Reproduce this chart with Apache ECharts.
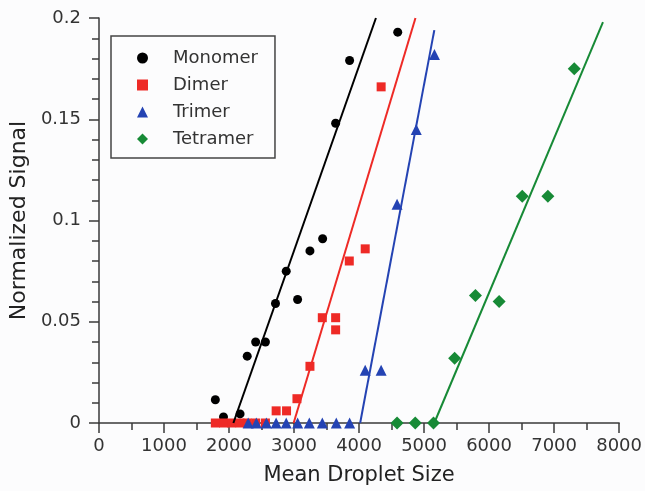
<!DOCTYPE html>
<html>
<head>
<meta charset="utf-8">
<script src="https://cdn.jsdelivr.net/npm/echarts@6/dist/echarts.min.js"></script>
<style>
html,body{margin:0;padding:0;background:#fcfcfd;}
#main{width:645px;height:491px;}
</style>
</head>
<body>
<div id="main"></div>
<script>
// droplet size / normalized signal
var monomerX = [1790, 1915, 2170, 2280, 2410, 2560, 2715, 2880, 3055, 3245, 3440, 3640, 3855, 4595];
var monomerY = [0.0115, 0.003, 0.0045, 0.033, 0.040, 0.040, 0.059, 0.075, 0.061, 0.085, 0.091, 0.148, 0.179, 0.193];
var dimerX = [1790, 1915, 2040, 2170, 2280, 2410, 2560, 2725, 2885, 3045, 3245, 3435, 3640, 3640, 3850, 4095, 4340];
var dimerY = [0, 0, 0, 0, 0, 0, 0, 0.006, 0.006, 0.012, 0.028, 0.052, 0.052, 0.046, 0.080, 0.086, 0.166];
var trimerX = [2295, 2420, 2575, 2725, 2880, 3055, 3235, 3435, 3650, 3855, 4095, 4340, 4585, 4880, 5160];
var trimerY = [0, 0, 0, 0, 0, 0, 0, 0, 0, 0, 0.026, 0.026, 0.108, 0.145, 0.182];
var tetramerX = [4585, 4865, 5145, 5470, 5790, 6155, 6510, 6905, 7310];
var tetramerY = [0, 0, 0, 0.032, 0.063, 0.060, 0.112, 0.112, 0.175];
// fitted lines, two end points each
var monomerFit = [[2067, 0], [4260, 0.2]];
var dimerFit = [[2994, 0], [4868, 0.2]];
var trimerFit = [[4017, 0], [5158, 0.194]];
var tetramerFit = [[5157, 0], [7752, 0.198]];

var names = ['Monomer', 'Dimer', 'Trimer', 'Tetramer'];
var colors = ['#000000', '#ee2a26', '#2443b3', '#178a36'];
var symbols = ['circle', 'rect', 'triangle', 'diamond'];
var sizes = [9, 9, 11, 13];

function pairs(xs, ys) {
	var out = [];
	for (var i = 0; i < xs.length; i++) out.push([xs[i], ys[i]]);
	return out;
}

var font = 'DejaVu Sans';
var axisColor = '#3a3a3a';

var myChart = echarts.init(document.getElementById('main'));
var pts = [pairs(monomerX, monomerY), pairs(dimerX, dimerY), pairs(trimerX, trimerY), pairs(tetramerX, tetramerY)];
var fits = [monomerFit, dimerFit, trimerFit, tetramerFit];

var series = [];
for (var i = 0; i < 4; i++) {
	series.push({
		name: names[i],
		type: 'scatter',
		symbol: symbols[i],
		symbolSize: sizes[i],
		itemStyle: {color: colors[i], opacity: 1},
		data: pts[i]
	});
}
for (var j = 0; j < 4; j++) {
	series.push({
		name: names[j] + ' fit',
		type: 'line',
		showSymbol: false,
		symbol: 'none',
		silent: true,
		lineStyle: {color: colors[j], width: 2},
		data: fits[j]
	});
}

var option = {
	backgroundColor: '#fcfcfd',
	animation: false,
	grid: {left: 95, right: 23, top: 18, bottom: 67},
	legend: {
		data: names,
		orient: 'vertical',
		left: 111,
		top: 36,
		padding: [13, 17, 10, 26],
		itemWidth: 11,
		itemHeight: 11,
		itemGap: 9,
		borderColor: '#444',
		borderWidth: 1.5,
		borderRadius: 0,
		textStyle: {fontFamily: font, fontSize: 18, color: '#333', lineHeight: 18, padding: [0, 0, 0, 20]}
	},
	xAxis: {
		type: 'value',
		min: 0, max: 8000, interval: 1000,
		name: 'Mean Droplet Size',
		nameLocation: 'middle',
		nameGap: 42,
		nameTextStyle: {fontFamily: font, fontSize: 21, color: '#222'},
		axisLine: {onZero: false, lineStyle: {color: axisColor, width: 1.5}},
		axisTick: {show: true, inside: false, length: 10, lineStyle: {color: axisColor, width: 1.5}},
		minorTick: {show: true, splitNumber: 2, length: 7, lineStyle: {color: axisColor, width: 1.5}},
		axisLabel: {fontFamily: font, fontSize: 18, color: '#333', margin: 14, formatter: function (v) { return String(v); }},
		splitLine: {show: false}
	},
	yAxis: {
		type: 'value',
		min: 0, max: 0.2, interval: 0.05,
		name: 'Normalized Signal',
		nameLocation: 'middle',
		nameGap: 64,
		nameTextStyle: {fontFamily: font, fontSize: 22, color: '#222'},
		axisLine: {show: true, lineStyle: {color: axisColor, width: 1.5}},
		axisTick: {show: true, inside: false, length: 10, lineStyle: {color: axisColor, width: 1.5}},
		minorTick: {show: true, splitNumber: 5, length: 7, lineStyle: {color: axisColor, width: 1.5}},
		axisLabel: {fontFamily: font, fontSize: 18, color: '#333', margin: 18},
		splitLine: {show: false}
	},
	series: series
};

myChart.setOption(option);
</script>
</body>
</html>
